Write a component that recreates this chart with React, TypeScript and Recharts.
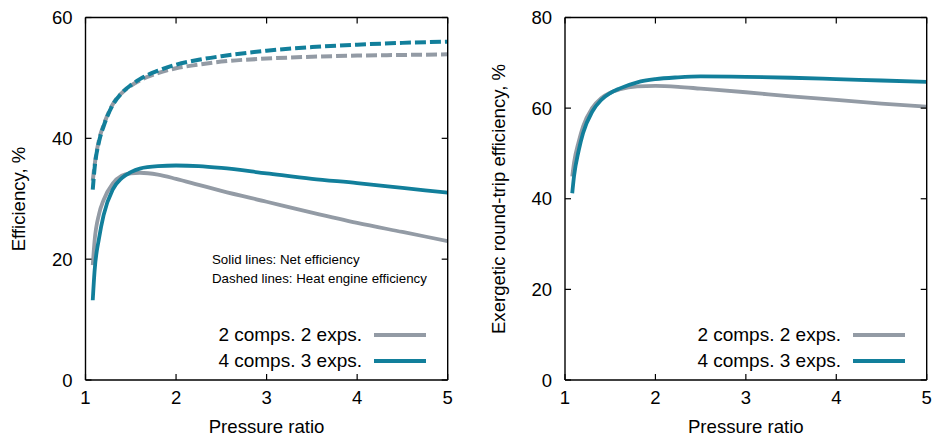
import { LineChart, Line, XAxis, YAxis, Legend } from 'recharts'

const pressureRatio = [1.08, 1.1, 1.15, 1.2, 1.3, 1.4, 1.5, 1.6, 1.8, 2, 2.25, 2.5, 3, 3.5, 4, 4.5, 5]

// left panel: net and heat engine efficiency, %
const netGray = [19, 23, 27.5, 29.8, 32.5, 33.8, 34.2, 34.3, 34.0, 33.3, 32.3, 31.3, 29.5, 27.7, 26.0, 24.5, 23.0]
const netTeal = [13.2, 18, 23.5, 27.3, 31.5, 33.4, 34.4, 35.0, 35.4, 35.5, 35.4, 35.1, 34.2, 33.3, 32.6, 31.8, 31.0]
const heatGray = [33, 35.5, 39.8, 42.2, 45.6, 47.5, 48.7, 49.6, 50.8, 51.6, 52.2, 52.7, 53.2, 53.5, 53.7, 53.8, 53.9]
const heatTeal = [31.5, 35, 39.5, 42, 45.5, 47.5, 48.8, 49.8, 51.2, 52.2, 53, 53.6, 54.5, 55.1, 55.5, 55.8, 56.0]

// right panel: exergetic round-trip efficiency, %
const exGray = [44.9, 48, 52.5, 56, 60, 62.2, 63.4, 64.1, 64.8, 64.9, 64.7, 64.3, 63.5, 62.6, 61.8, 61.0, 60.3]
const exTeal = [41.2, 45, 50.5, 54.5, 59.2, 61.8, 63.3, 64.3, 65.7, 66.4, 66.8, 67.0, 66.9, 66.7, 66.4, 66.1, 65.8]

const xTicks = [1, 2, 3, 4, 5]
const leftTicks = [0, 20, 40, 60]
const rightTicks = [0, 20, 40, 60, 80]
const seriesNames = ['2 comps. 2 exps.', '4 comps. 3 exps.']

const GRAY = '#939ba5'
const TEAL = '#127f9b'
const FONT = '"Liberation Sans", Arial, Helvetica, sans-serif'

const leftData = pressureRatio.map((x, i) => ({
  x,
  netGray: netGray[i],
  netTeal: netTeal[i],
  heatGray: heatGray[i],
  heatTeal: heatTeal[i],
}))

const rightData = pressureRatio.map((x, i) => ({ x, exGray: exGray[i], exTeal: exTeal[i] }))

const tickStyle = { fontSize: 18.5, fill: '#000', fontFamily: FONT }
const axisLine = { stroke: '#000', strokeWidth: 1.4 }
const tickLine = { stroke: '#000', strokeWidth: 1.2 }
const noLabel = () => <g />

function LegendBox({ textRight, lineLeft, note }: { textRight: number; lineLeft: number; note?: boolean }) {
  const colors = [GRAY, TEAL]
  const rows = [334.7, 361.3]
  return (
    <div style={{ position: 'relative', width: '100%', height: '100%', fontFamily: FONT }}>
      {note && (
        <div style={{ position: 'absolute', left: 212, top: 250, fontSize: 13.3, lineHeight: '19px' }}>
          <div>Solid lines: Net efficiency</div>
          <div>Dashed lines: Heat engine efficiency</div>
        </div>
      )}
      {seriesNames.map((name, i) => (
        <div key={name}>
          <div
            style={{
              position: 'absolute',
              right: `calc(100% - ${textRight}px)`,
              top: rows[i] - 12,
              fontSize: 19,
              lineHeight: '24px',
              whiteSpace: 'nowrap',
            }}
          >
            {name}
          </div>
          <div
            style={{
              position: 'absolute',
              left: lineLeft,
              top: rows[i] - 2,
              width: 52,
              height: 4,
              background: colors[i],
            }}
          />
        </div>
      ))}
    </div>
  )
}

type PanelProps = {
  width: number
  marginLeft: number
  marginRight: number
  yMax: number
  yTicks: number[]
  yLabel: string
  yLabelX: number
  children: React.ReactNode
  data: object[]
  legend: React.ReactNode
}

function Panel({ width, marginLeft, marginRight, yMax, yTicks, yLabel, yLabelX, children, data, legend }: PanelProps) {
  const height = 438
  const plotLeft = marginLeft + 60
  const plotRight = width - marginRight - 1
  return (
    <LineChart
      width={width}
      height={height}
      data={data}
      margin={{ top: 16.5, right: marginRight, bottom: 18, left: marginLeft }}
      style={{ fontFamily: FONT }}
    >
      <XAxis
        dataKey="x"
        type="number"
        domain={[1, 5]}
        ticks={xTicks}
        allowDataOverflow
        height={40}
        tick={tickStyle}
        axisLine={axisLine}
        tickLine={tickLine}
        tickSize={-6}
        tickMargin={17}
        label={() => (
          <text x={(plotLeft + plotRight) / 2} y={433} textAnchor="middle" fontSize={18.6} fontFamily={FONT} fill="#000">
            Pressure ratio
          </text>
        )}
      />
      <XAxis
        xAxisId="top"
        orientation="top"
        dataKey="x"
        type="number"
        domain={[1, 5]}
        ticks={xTicks}
        allowDataOverflow
        height={1}
        tick={noLabel}
        axisLine={axisLine}
        tickLine={tickLine}
        tickSize={-6}
      />
      <YAxis
        type="number"
        domain={[0, yMax]}
        ticks={yTicks}
        allowDataOverflow
        width={60}
        tick={tickStyle}
        axisLine={axisLine}
        tickLine={tickLine}
        tickSize={-6}
        tickMargin={19}
        label={() => (
          <text
            x={yLabelX}
            y={199}
            transform={`rotate(-90 ${yLabelX} 199)`}
            textAnchor="middle"
            dominantBaseline="central"
            fontSize={18.6}
            fontFamily={FONT}
            fill="#000"
          >
            {yLabel}
          </text>
        )}
      />
      <YAxis
        yAxisId="right"
        orientation="right"
        type="number"
        domain={[0, yMax]}
        ticks={yTicks}
        allowDataOverflow
        width={1}
        tick={noLabel}
        axisLine={axisLine}
        tickLine={tickLine}
        tickSize={-6}
      />
      {children}
      <Legend
        align="center"
        verticalAlign="middle"
        layout="horizontal"
        wrapperStyle={{ position: 'absolute', left: 0, top: 0, width, height, pointerEvents: 'none' }}
        content={() => legend}
      />
    </LineChart>
  )
}

export default function App() {
  return (
    <div style={{ position: 'absolute', left: 0, top: 0, width: 935, height: 438, background: '#fff', display: 'flex' }}>
      <Panel
        width={470}
        marginLeft={25.5}
        marginRight={21.3}
        yMax={60}
        yTicks={leftTicks}
        yLabel="Efficiency, %"
        yLabelX={18.5}
        data={leftData}
        legend={<LegendBox textRight={362} lineLeft={373.5} note />}
      >
        <Line dataKey="heatGray" type="monotone" stroke={GRAY} strokeWidth={4} strokeDasharray="11 4" dot={false} isAnimationActive={false} />
        <Line dataKey="heatTeal" type="monotone" stroke={TEAL} strokeWidth={4} strokeDasharray="11 4" dot={false} isAnimationActive={false} />
        <Line dataKey="netGray" type="monotone" stroke={GRAY} strokeWidth={3.8} dot={false} isAnimationActive={false} />
        <Line dataKey="netTeal" type="monotone" stroke={TEAL} strokeWidth={3.8} dot={false} isAnimationActive={false} />
      </Panel>
      <Panel
        width={465}
        marginLeft={35}
        marginRight={7.3}
        yMax={80}
        yTicks={rightTicks}
        yLabel="Exergetic round-trip efficiency, %"
        yLabelX={28}
        data={rightData}
        legend={<LegendBox textRight={371} lineLeft={383.3} />}
      >
        <Line dataKey="exGray" type="monotone" stroke={GRAY} strokeWidth={3.8} dot={false} isAnimationActive={false} />
        <Line dataKey="exTeal" type="monotone" stroke={TEAL} strokeWidth={3.8} dot={false} isAnimationActive={false} />
      </Panel>
    </div>
  )
}
